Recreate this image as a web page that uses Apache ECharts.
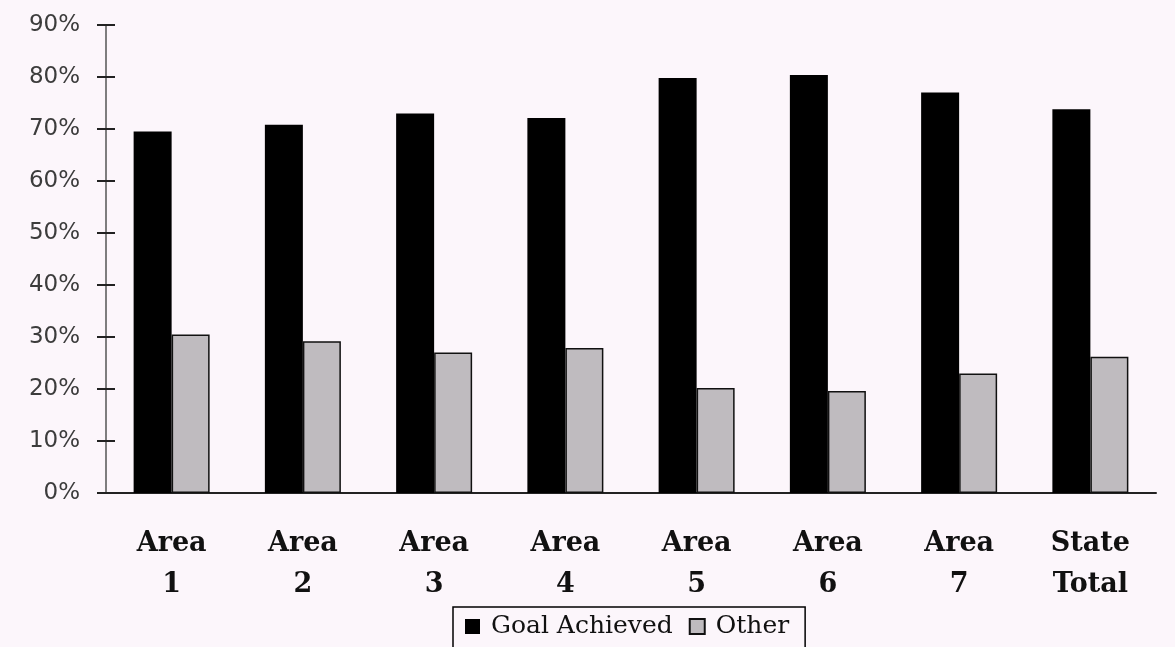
<!DOCTYPE html>
<html>
<head>
<meta charset="utf-8">
<style>
  html, body { margin: 0; padding: 0; background: #fcf6fb; }
  #chart { width: 1175px; height: 647px; }
</style>
<script src="https://cdn.jsdelivr.net/npm/echarts@6/dist/echarts.min.js"></script>
</head>
<body>
<div id="chart"></div>
<script>
// Share of cases per area (percent)
const categories = ['Area\n1', 'Area\n2', 'Area\n3', 'Area\n4', 'Area\n5', 'Area\n6', 'Area\n7', 'State\nTotal'];
const goalAchieved = [69.5, 70.8, 73.0, 72.1, 79.8, 80.4, 77.0, 73.8];
const other = [30.5, 29.2, 27.0, 27.9, 20.2, 19.6, 23.0, 26.2];
const yTicks = [0, 10, 20, 30, 40, 50, 60, 70, 80, 90];

const chart = echarts.init(document.getElementById('chart'), null, { renderer: 'canvas' });

const yMin = yTicks[0];
const yMax = yTicks[yTicks.length - 1];
const yStep = yTicks[1] - yTicks[0];

chart.setOption({
  backgroundColor: '#fcf6fb',
  animation: false,
  grid: { left: 106, right: 19, top: 25, bottom: 154 },
  legend: {
    top: 607,
    left: 453,
    padding: [7, 16, 30, 12],
    itemGap: 16,
    itemWidth: 15,
    itemHeight: 15,
    borderColor: '#000',
    borderWidth: 1.5,
    icon: 'rect',
    textStyle: { fontFamily: 'DejaVu Serif', fontSize: 25, color: '#111', padding: [0, 0, 0, 6] },
    data: ['Goal Achieved', 'Other']
  },
  xAxis: {
    type: 'category',
    data: categories,
    axisLine: { lineStyle: { color: '#222', width: 2 } },
    axisTick: { show: false },
    axisLabel: {
      fontFamily: 'DejaVu Serif',
      fontWeight: 'bold',
      fontSize: 27,
      lineHeight: 41,
      color: '#111',
      margin: 30
    }
  },
  yAxis: [
    {
      type: 'value',
      min: yMin, max: yMax, interval: yStep,
      axisLine: { show: true, lineStyle: { color: '#555', width: 1.5 } },
      axisTick: { show: true, length: 9, lineStyle: { color: '#222', width: 2 } },
      splitLine: { show: false },
      axisLabel: {
        formatter: '{value}%',
        fontFamily: 'DejaVu Sans',
        fontSize: 23,
        color: '#3c3c3c',
        margin: 26
      }
    },
    {
      type: 'value',
      position: 'left',
      min: yMin, max: yMax, interval: yStep,
      axisLine: { show: false },
      axisTick: { show: true, inside: true, length: 9, lineStyle: { color: '#222', width: 2 } },
      splitLine: { show: false },
      axisLabel: { show: false }
    }
  ],
  series: [
    {
      name: 'Goal Achieved',
      type: 'bar',
      data: goalAchieved,
      barWidth: 38,
      barGap: '0%',
      itemStyle: { color: '#000', borderColor: '#000', borderWidth: 0 }
    },
    {
      name: 'Other',
      type: 'bar',
      data: other,
      barWidth: 38,
      barGap: '0%',
      itemStyle: { color: '#bfbbbf', borderColor: '#111', borderWidth: 1.5 }
    }
  ]
});
</script>
</body>
</html>
